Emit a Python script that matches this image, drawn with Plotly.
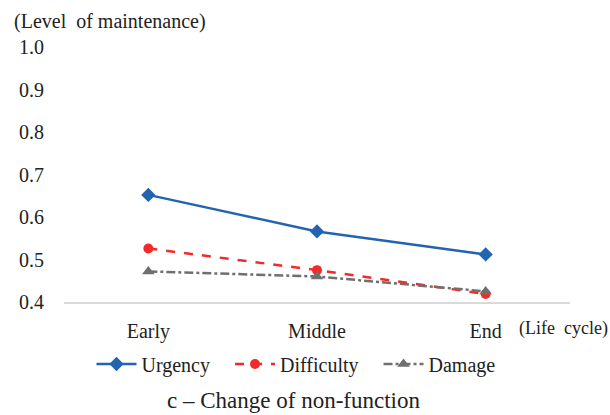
import plotly.graph_objects as go

categories = ["Early", "Middle", "End"]
urgency = [0.652, 0.566, 0.512]
difficulty = [0.526, 0.475, 0.419]
damage = [0.472, 0.460, 0.425]
series_names = ["Urgency", "Difficulty", "Damage"]
y_ticks = [0.4, 0.5, 0.6, 0.7, 0.8, 0.9, 1.0]
y_tick_text = ["0.4", "0.5", "0.6", "0.7", "0.8", "0.9", "1.0"]

FONT = "Liberation Serif"
L, R, T, B = 64, 40, 47, 113
W, H = 610, 415
PW, PH = W - L - R, H - T - B
PAD = "\u00a0\u00a0\u00a0"


def px(x):
    return (x - L) / PW


def py(y):
    return (H - B - y) / PH


fig = go.Figure()
fig.add_trace(go.Scatter(x=categories, y=urgency, name=series_names[0] + PAD, mode="lines+markers",
                         line=dict(color="#2364B0", width=2.5),
                         marker=dict(symbol="diamond", size=11, color="#2364B0")))
fig.add_trace(go.Scatter(x=categories, y=difficulty, name=series_names[1] + PAD, mode="lines+markers",
                         line=dict(color="#F42A2A", width=2.5, dash="dash"),
                         marker=dict(symbol="circle", size=10, color="#F42A2A")))
fig.add_trace(go.Scatter(x=categories, y=damage, name=series_names[2], mode="lines+markers",
                         line=dict(color="#6F6F6F", width=2.5, dash="dashdot"),
                         marker=dict(symbol="triangle-up", size=11, color="#6F6F6F")))

fig.update_layout(
    width=W, height=H,
    margin=dict(l=L, r=R, t=T, b=B, autoexpand=False),
    paper_bgcolor="white", plot_bgcolor="white",
    font=dict(family=FONT, size=20, color="#222222"),
    showlegend=True,
    legend=dict(orientation="h", xref="container", yref="container",
                x=296 / W, xanchor="center", y=1 - 364 / H, yanchor="middle",
                font=dict(family=FONT, size=20), itemwidth=40, traceorder="normal"),
    xaxis=dict(type="category", showgrid=False, showline=True, linecolor="#D9D9D9",
               linewidth=1.5, ticks="", tickfont=dict(family=FONT, size=20),
               ticklabelstandoff=10, range=[-0.5, 2.5]),
    yaxis=dict(range=[0.4, 1.0], tickvals=y_ticks, ticktext=y_tick_text, showgrid=False,
               zeroline=False, showline=False, ticks="", ticklabelstandoff=19,
               tickfont=dict(family=FONT, size=20)),
    annotations=[
        dict(text="(Level  of maintenance)", xref="paper", yref="paper", x=px(12), y=py(22),
             xanchor="left", yanchor="middle", showarrow=False,
             font=dict(family=FONT, size=20)),
        dict(text="(Life  cycle)", xref="paper", yref="paper", x=px(517), y=py(328),
             xanchor="left", yanchor="middle", showarrow=False,
             font=dict(family=FONT, size=18)),
        dict(text="c – Change of non-function", xref="paper", yref="paper", x=px(293),
             y=py(400), xanchor="center", yanchor="middle", showarrow=False,
             font=dict(family=FONT, size=23)),
    ],
)
fig.write_html("out.html", config={"displayModeBar": False},
               post_script="document.body.style.margin='0';document.body.style.overflow='hidden';")
